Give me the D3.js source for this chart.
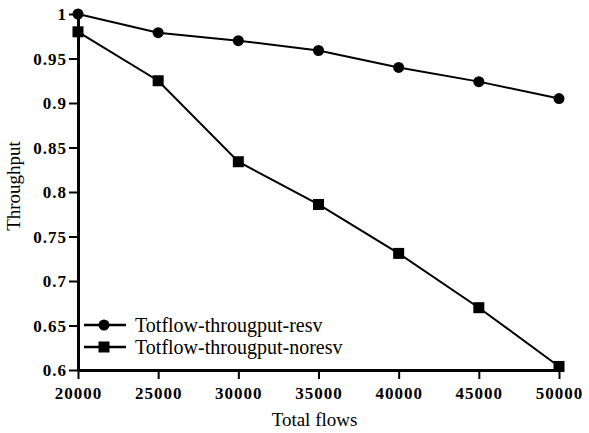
<!DOCTYPE html>
<html>
<head>
<meta charset="utf-8">
<script src="https://cdn.jsdelivr.net/npm/d3@7"></script>
<style>
  body { margin: 0; background: #fff; }
  svg text { font-family: "Liberation Serif", serif; fill: #000; }
</style>
</head>
<body>
<div id="chart"></div>
<script>
var flows = [20000, 25000, 30000, 35000, 40000, 45000, 50000];
var resv = [1.0, 0.979, 0.970, 0.959, 0.940, 0.924, 0.905];
var noresv = [0.980, 0.925, 0.834, 0.786, 0.731, 0.670, 0.604];
var yTicks = [0.6, 0.65, 0.7, 0.75, 0.8, 0.85, 0.9, 0.95, 1];
var seriesNames = ["Totflow-througput-resv", "Totflow-througput-noresv"];

var W = 589, H = 433;
var margin = { top: 14, right: 30, bottom: 63, left: 78 },
    width = W - margin.left - margin.right,
    height = H - margin.top - margin.bottom;

var svg = d3.select("#chart").append("svg")
    .attr("width", W)
    .attr("height", H)
  .append("g")
    .attr("transform", "translate(" + margin.left + "," + margin.top + ")");

var x = d3.scaleLinear().domain([20000, 50000]).range([0, width]);
var y = d3.scaleLinear().domain([0.6, 1]).range([height, 0]);

// axes
var yAxis = svg.append("g")
    .call(d3.axisLeft(y).tickValues(yTicks).tickSize(9).tickSizeOuter(0)
      .tickFormat(function (d) { return String(+d.toFixed(2)); }));
var xAxis = svg.append("g")
    .attr("transform", "translate(0," + height + ")")
    .call(d3.axisBottom(x).tickValues(flows).tickSize(9).tickSizeOuter(0).tickFormat(d3.format("d")));

[yAxis, xAxis].forEach(function (a) {
  a.attr("font-family", null);
  a.select(".domain").attr("stroke-width", 3);
  a.selectAll(".tick line").attr("stroke-width", 2);
  a.selectAll("text")
    .attr("fill", "#000")
    .attr("style", "font-family:'Liberation Serif';font-size:17px;font-weight:bold;letter-spacing:1px");
});
yAxis.selectAll("text").attr("x", -11).attr("dy", "0.35em");
xAxis.selectAll("text").attr("y", 17);

// axis titles
svg.append("text")
    .attr("x", width / 2 - 4)
    .attr("y", height + 56)
    .attr("text-anchor", "middle")
    .style("font-size", "19px")
    .text("Total flows");

svg.append("text")
    .attr("transform", "rotate(-90)")
    .attr("x", -height / 2 + 6)
    .attr("y", -58)
    .attr("text-anchor", "middle")
    .style("font-size", "19px")
    .text("Throughput");

var line = d3.line()
    .x(function (d, i) { return x(flows[i]); })
    .y(function (d) { return y(d); });

svg.append("path").datum(resv)
    .attr("d", line).attr("fill", "none").attr("stroke", "#000").attr("stroke-width", 2);
svg.append("path").datum(noresv)
    .attr("d", line).attr("fill", "none").attr("stroke", "#000").attr("stroke-width", 2);

svg.selectAll(".dot").data(resv).enter().append("circle")
    .attr("cx", function (d, i) { return x(flows[i]); })
    .attr("cy", function (d) { return y(d); })
    .attr("r", 5.5)
    .attr("fill", "#000");

svg.selectAll(".sq").data(noresv).enter().append("rect")
    .attr("x", function (d, i) { return x(flows[i]) - 5.5; })
    .attr("y", function (d) { return y(d) - 5.5; })
    .attr("width", 11)
    .attr("height", 11)
    .attr("fill", "#000");

// legend
var legend = svg.selectAll(".legend").data(seriesNames).enter().append("g")
    .attr("transform", function (d, i) { return "translate(6," + (311 + i * 22) + ")"; });
legend.append("line")
    .attr("x1", 0).attr("x2", 42)
    .attr("stroke", "#000").attr("stroke-width", 2.5);
legend.each(function (d, i) {
  var g = d3.select(this);
  if (i === 0) {
    g.append("circle").attr("cx", 20).attr("r", 5.5).attr("fill", "#000");
  } else {
    g.append("rect").attr("x", 14.5).attr("y", -5.5).attr("width", 11).attr("height", 11).attr("fill", "#000");
  }
});
legend.append("text")
    .attr("x", 51)
    .attr("dy", "0.35em")
    .style("font-size", "20px")
    .text(function (d) { return d; });
</script>
</body>
</html>
